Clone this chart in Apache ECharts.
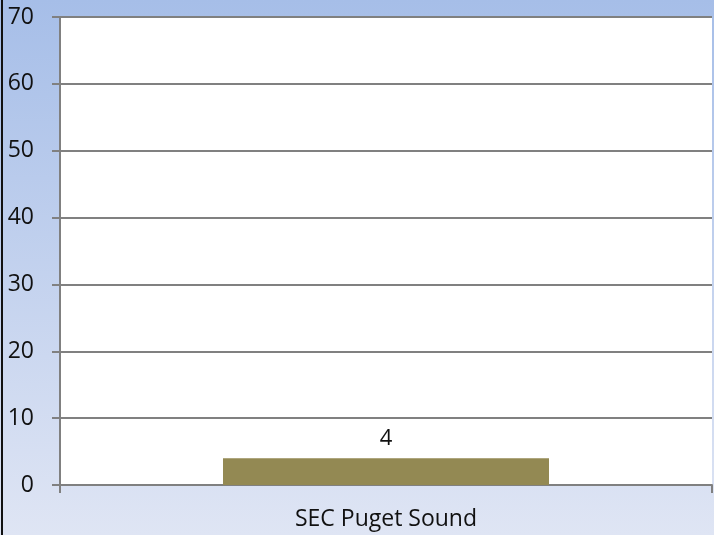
<!DOCTYPE html>
<html>
<head>
<meta charset="utf-8">
<script src="https://cdn.jsdelivr.net/npm/echarts@6/dist/echarts.min.js"></script>
<style>
  html, body { margin: 0; padding: 0; }
  #chart { width: 714px; height: 535px; }
</style>
</head>
<body>
<div id="chart"></div>
<script>
let categories = ["SEC Puget Sound"];
let values = [4];
let yTicks = { min: 0, max: 70, interval: 10 };

let dom = document.getElementById("chart");
let myChart = echarts.init(dom);
let font = "'Open Sans', 'Liberation Sans', sans-serif";

let option = {
  animation: false,
  graphic: [
    {
      type: "rect",
      z: -10,
      shape: { x: 0, y: 0, width: 714, height: 535 },
      style: {
        fill: new echarts.graphic.LinearGradient(0, 0, 0, 1, [
          { offset: 0, color: "#a6bee8" },
          { offset: 1, color: "#dfe5f4" },
        ]),
      },
      silent: true,
    },
    {
      type: "line",
      z: 10,
      shape: { x1: 2, y1: 0, x2: 2, y2: 535 },
      style: { stroke: "#111", lineWidth: 2 },
      silent: true,
    },
  ],
  grid: {
    left: 60,
    right: 2,
    top: 17,
    bottom: 50,
    show: true,
    backgroundColor: "#ffffff",
    borderWidth: 0,
  },
  xAxis: {
    type: "category",
    data: categories,
    boundaryGap: true,
    axisLine: { lineStyle: { color: "#808080", width: 2 } },
    axisTick: { show: true, alignWithLabel: false, length: 8, lineStyle: { color: "#808080", width: 2 } },
    axisLabel: { color: "#111", fontSize: 23, fontFamily: font, margin: 23 },
  },
  yAxis: {
    type: "value",
    min: yTicks.min,
    max: yTicks.max,
    interval: yTicks.interval,
    axisLine: { show: true, lineStyle: { color: "#808080", width: 2 } },
    axisTick: { show: true, length: 8, lineStyle: { color: "#808080", width: 2 } },
    axisLabel: { color: "#111", fontSize: 23, fontFamily: font, margin: 26 },
    splitLine: { show: true, lineStyle: { color: "#808080", width: 2 } },
  },
  series: [
    {
      type: "bar",
      data: values,
      barWidth: "50%",
      itemStyle: { color: "#938953" },
      label: {
        show: true,
        position: "top",
        distance: 9,
        color: "#111",
        fontSize: 22,
        fontFamily: font,
      },
    },
  ],
};

myChart.setOption(option);
</script>
</body>
</html>
